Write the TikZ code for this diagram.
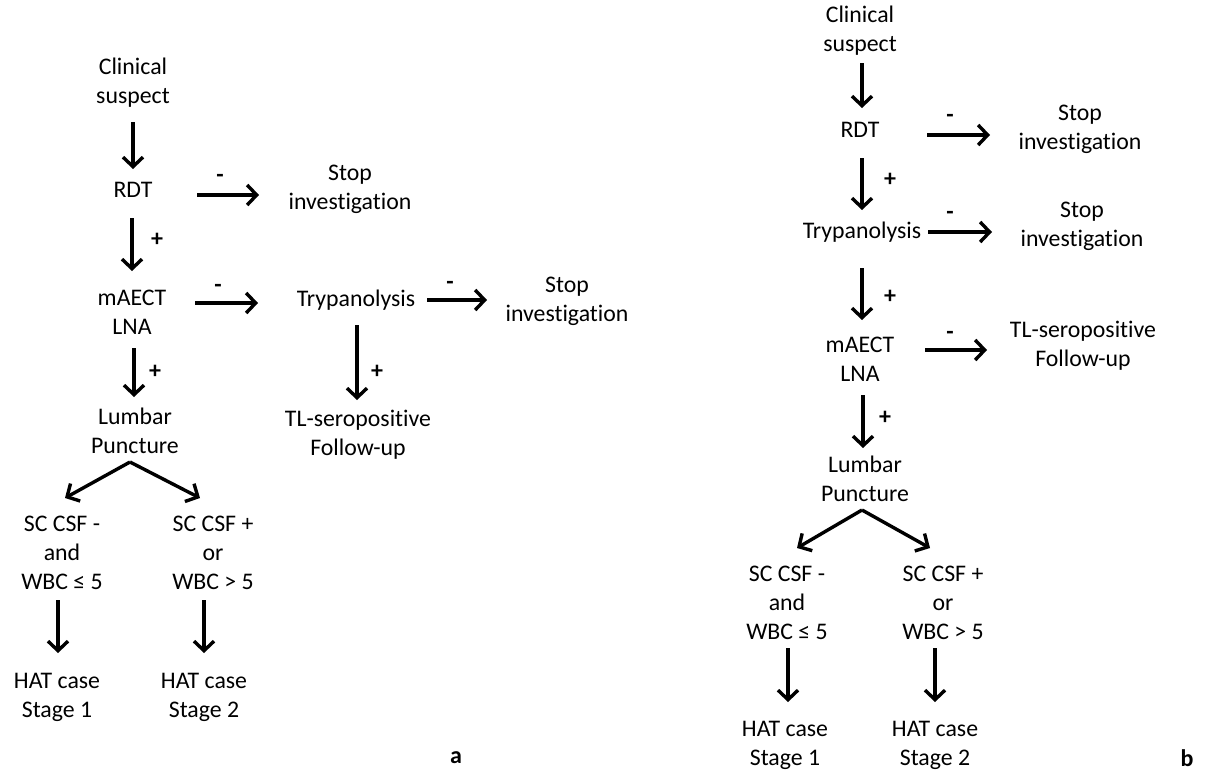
\documentclass[tikz,border=0pt]{standalone}
\usepackage{fontspec}
\setmainfont{Carlito}[Ligatures={NoCommon}]
\usetikzlibrary{arrows.meta}
\begin{document}
\begin{tikzpicture}[x=1pt,y=-1pt,
  txt/.style={font=\fontsize{23.8}{29}\selectfont, align=center, inner sep=0pt, outer sep=0pt},
  sgn/.style={font=\fontsize{24}{29}\selectfont\bfseries, inner sep=0pt},
  lab/.style={font=\fontsize{24}{29}\selectfont\bfseries, inner sep=0pt},
  arr/.style={line width=3.4pt, -{Straight Barb[length=9.5pt,width=20pt]}}]
\path[use as bounding box, fill=white] (0,0) rectangle (1206,772);

% ---------------- panel a ----------------
\node[txt] (csa) at (133,83) {Clinical\\suspect};
\node[txt] (rdta) at (133,190) {RDT};
\node[txt] (stopa1) at (350,189) {Stop\\investigation};
\node[txt] (maecta) at (132,312) {mAECT\\LNA};
\node[txt] (trypa) at (356,300) {Trypanolysis};
\node[txt] (stopa2) at (567,301) {Stop\\investigation};
\node[txt] (tla) at (358,435) {TL-seropositive\\Follow-up};
\node[txt] (lpa) at (135,431) {Lumbar\\Puncture};
\node[txt] (sca1) at (62,553) {SC CSF -\\and\\WBC ≤ 5};
\node[txt] (sca2) at (213,553) {SC CSF +\\or\\WBC > 5};
\node[txt] (hata1) at (57,697) {HAT case\\Stage 1};
\node[txt] (hata2) at (204,697) {HAT case\\Stage 2};
\node[lab] (laba) at (456,758) {a};

\node[sgn] (pa1) at (157,240) {+};
\node[sgn] (ma1) at (220,178) {-};
\node[sgn] (ma2) at (218,288) {-};
\node[sgn] (ma3) at (450,285) {-};
\node[sgn] (pa2) at (377,372) {+};
\node[sgn] (pa3) at (155,372) {+};

\draw[arr] ([shift={(0,39)}]csa.center) -- ([shift={(0,-21)}]rdta.center);
\draw[arr] ([shift={(-1,28)}]rdta.center) -- ([shift={(0,-41)}]maecta.center);
\draw[arr] ([shift={(64,5)}]rdta.center) -- ([shift={(-91,6)}]stopa1.center);
\draw[arr] ([shift={(63,-9)}]maecta.center) -- ([shift={(-98,3)}]trypa.center);
\draw[arr] ([shift={(71,0)}]trypa.center) -- ([shift={(-80,-1)}]stopa2.center);
\draw[arr] ([shift={(1,25)}]trypa.center) -- ([shift={(-1,-35)}]tla.center);
\draw[arr] ([shift={(2,36)}]maecta.center) -- ([shift={(-1,-34)}]lpa.center);
\draw[arr] ([shift={(-5,31)}]lpa.center) -- ([shift={(3,-55)}]sca1.center);
\draw[arr] ([shift={(-5,31)}]lpa.center) -- ([shift={(-13,-55)}]sca2.center);
\draw[arr] ([shift={(-4,47)}]sca1.center) -- ([shift={(1,-44)}]hata1.center);
\draw[arr] ([shift={(-9,47)}]sca2.center) -- ([shift={(0,-44)}]hata2.center);

% ---------------- panel b ----------------
\node[txt] (csb) at (860,31) {Clinical\\suspect};
\node[txt] (rdtb) at (860,130) {RDT};
\node[txt] (stopb1) at (1080,129) {Stop\\investigation};
\node[txt] (trypb) at (862,232) {Trypanolysis};
\node[txt] (stopb2) at (1082,226) {Stop\\investigation};
\node[txt] (maectb) at (860,359) {mAECT\\LNA};
\node[txt] (tlb) at (1083,346) {TL-seropositive\\Follow-up};
\node[txt] (lpb) at (865,479) {Lumbar\\Puncture};
\node[txt] (scb1) at (787,603) {SC CSF -\\and\\WBC ≤ 5};
\node[txt] (scb2) at (943,603) {SC CSF +\\or\\WBC > 5};
\node[txt] (hatb1) at (785,745) {HAT case\\Stage 1};
\node[txt] (hatb2) at (935,745) {HAT case\\Stage 2};
\node[lab] (labb) at (1187,758) {b};

\node[sgn] (mb1) at (950,118) {-};
\node[sgn] (pb1) at (890,180) {+};
\node[sgn] (mb2) at (950,215) {-};
\node[sgn] (pb2) at (890,297) {+};
\node[sgn] (mb3) at (950,335) {-};
\node[sgn] (pb3) at (885,418) {+};

\draw[arr] ([shift={(2,32)}]csb.center) -- ([shift={(2,-22)}]rdtb.center);
\draw[arr] ([shift={(67,5)}]rdtb.center) -- ([shift={(-90,6)}]stopb1.center);
\draw[arr] ([shift={(2,28)}]rdtb.center) -- ([shift={(0,-22)}]trypb.center);
\draw[arr] ([shift={(66,0)}]trypb.center) -- ([shift={(-90,6)}]stopb2.center);
\draw[arr] ([shift={(0,36)}]trypb.center) -- ([shift={(2,-39)}]maectb.center);
\draw[arr] ([shift={(65,-9)}]maectb.center) -- ([shift={(-96,4)}]tlb.center);
\draw[arr] ([shift={(3,36)}]maectb.center) -- ([shift={(-2,-31)}]lpb.center);
\draw[arr] ([shift={(-3,31)}]lpb.center) -- ([shift={(10,-55)}]scb1.center);
\draw[arr] ([shift={(-3,31)}]lpb.center) -- ([shift={(-13,-55)}]scb2.center);
\draw[arr] ([shift={(1,45)}]scb1.center) -- ([shift={(3,-43)}]hatb1.center);
\draw[arr] ([shift={(-8,45)}]scb2.center) -- ([shift={(0,-43)}]hatb2.center);
\end{tikzpicture}
\end{document}
